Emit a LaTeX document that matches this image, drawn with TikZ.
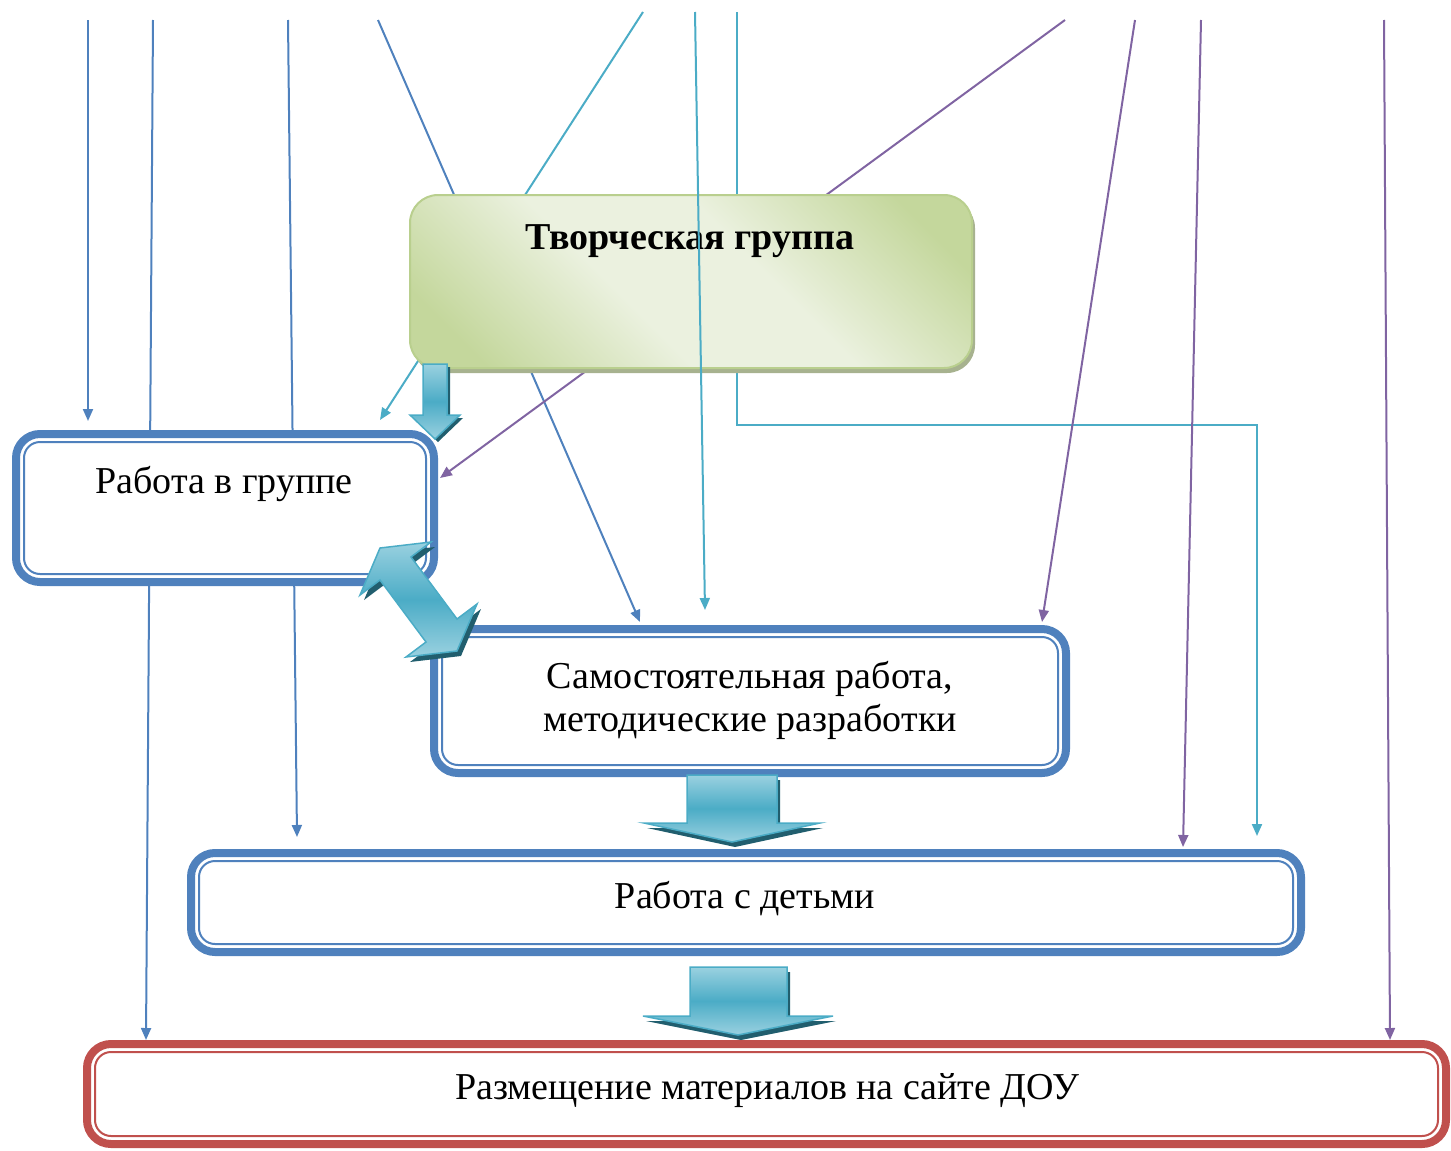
\documentclass[tikz,border=0pt]{standalone}
\usepackage{fontspec}
\setmainfont{Liberation Serif}
\usetikzlibrary{arrows.meta,calc,shadows}
\definecolor{cblue}{HTML}{4F81BD}
\definecolor{ccyan}{HTML}{4BACC6}
\definecolor{cpurp}{HTML}{8064A2}
\definecolor{cred}{HTML}{C0504D}
\definecolor{glight}{HTML}{EBF1DF}
\definecolor{gdark}{HTML}{C4D79C}
\definecolor{gedge}{HTML}{B9CF8E}
\definecolor{gshadow}{HTML}{A7B28F}
\definecolor{alight}{HTML}{9AD1E0}
\definecolor{adark}{HTML}{215E6E}
\pgfdeclareverticalshading{greenband}{100bp}{color(0bp)=(gdark); color(22bp)=(gdark); color(42bp)=(glight); color(58bp)=(glight); color(78bp)=(gdark); color(100bp)=(gdark)}
\begin{document}
\begin{tikzpicture}[x=1pt,y=-1pt,
  conn/.style={line width=2pt,-{Triangle[length=12pt,width=10pt]}},
  dbox/.style={draw=#1,line width=8pt,fill=white,rounded corners=24pt,inner sep=0pt,outer sep=0pt,anchor=north west},
  innerline/.style={draw=#1,line width=2pt,rounded corners=16pt},
  gbox/.style={draw=gedge,line width=2pt,rounded corners=28pt,inner sep=0pt,outer sep=0pt,anchor=north west,
    shading=greenband,shading angle=-45,
    general shadow={fill=gshadow,shadow xshift=3pt,shadow yshift=-5pt}},
  lbl/.style={font=\fontsize{38pt}{43pt}\selectfont,align=center,inner sep=0pt},
  barrow/.style={draw=ccyan,line width=1.5pt,top color=alight,bottom color=alight,middle color=ccyan},
  bshadow/.style={fill=adark}
]
\useasboundingbox (0,0) rectangle (1451,1151);

% start coordinates
\coordinate (s1) at (88,20);
\coordinate (s2) at (153,20);
\coordinate (s3) at (288,20);
\coordinate (s4) at (378,20);
\coordinate (s5) at (643,12);
\coordinate (s6) at (695,12);
\coordinate (s7) at (737,12);
\coordinate (s8) at (1065,20);
\coordinate (s9) at (1135,20);
\coordinate (s10) at (1201,20);
\coordinate (s11) at (1384,20);
% end coordinates
\coordinate (e1) at (88,421);
\coordinate (e2) at (146,1040);
\coordinate (e3) at (297,837);
\coordinate (e4) at (640,622);
\coordinate (e5) at (380,420);
\coordinate (e6) at (705,610);
\coordinate (e7) at (1257,836);
\coordinate (e8) at (440,478);
\coordinate (e9) at (1042,622);
\coordinate (e10) at (1183,847);
\coordinate (e11) at (1390,1040);

% connectors behind boxes
\draw[conn,cblue] (s1) -- (e1);
\draw[conn,cblue] (s2) -- (e2);
\draw[conn,cblue] (s3) -- (e3);
\draw[conn,cblue] (s4) -- (e4);
\draw[conn,ccyan] (s5) -- (e5);
\draw[conn,ccyan] (s7) |- (1257,425) -- (e7);
\draw[conn,cpurp] (s8) -- (e8);
\draw[conn,cpurp] (s9) -- (e9);
\draw[conn,cpurp] (s10) -- (e10);
\draw[conn,cpurp] (s11) -- (e11);

% creative group
\node[gbox,minimum width=562pt,minimum height=173pt] (tg) at (410,195) {};
\node[lbl,font=\fontsize{38pt}{43pt}\selectfont\bfseries] (tgT) at (690,241) {Творческая группа};

\draw[conn,ccyan] (s6) -- (e6);

% boxes
\node[dbox=cblue,minimum width=418pt,minimum height=148pt] (grp) at (16,434) {};
\draw[innerline=cblue] ([shift={(8,8)}]grp.north west) rectangle ([shift={(-8,-8)}]grp.south east);
\node[lbl] (grpT) at (224,484) {Работа в группе};

\node[dbox=cblue,minimum width=632pt,minimum height=144pt] (sam) at (434,629) {};
\draw[innerline=cblue] ([shift={(8,8)}]sam.north west) rectangle ([shift={(-8,-8)}]sam.south east);
\node[lbl] (samT) at (750,700) {Самостоятельная работа,\\методические разработки};

\node[dbox=cblue,minimum width=1110pt,minimum height=99pt] (kid) at (191,853) {};
\draw[innerline=cblue] ([shift={(8,8)}]kid.north west) rectangle ([shift={(-8,-8)}]kid.south east);
\node[lbl] (kidT) at (745,899) {Работа с детьми};

\node[dbox=cred,minimum width=1359pt,minimum height=100pt] (web) at (87,1044) {};
\draw[innerline=cred] ([shift={(8,8)}]web.north west) rectangle ([shift={(-8,-8)}]web.south east);
\node[lbl] (webT) at (767,1091) {Размещение материалов на сайте ДОУ};

% block arrows
% small: creative group -> group work
\fill[bshadow] (426,367) -- (450,367) -- (450,418) -- (463,418) -- (438,442) -- (413,418) -- (426,418) -- cycle;
\draw[barrow] (423,364) -- (447,364) -- (447,415) -- (460,415) -- (435,439) -- (410,415) -- (423,415) -- cycle;

% double arrow
\fill[bshadow,shift={(4,5)}] (380,548) -- (431,542) -- (411,557) -- (457,619) -- (477,604) -- (457,651) -- (406,657) -- (426,642) -- (380,580) -- (360,595) -- cycle;
\draw[barrow] (380,548) -- (431,542) -- (411,557) -- (457,619) -- (477,604) -- (457,651) -- (406,657) -- (426,642) -- (380,580) -- (360,595) -- cycle;

% sam -> kid
\fill[bshadow,shift={(3,5)}] (687,775) -- (777,775) -- (777,823) -- (820,823) -- (732,842) -- (644,823) -- (687,823) -- cycle;
\draw[barrow] (687,775) -- (777,775) -- (777,823) -- (820,823) -- (732,842) -- (644,823) -- (687,823) -- cycle;

% kid -> web
\fill[bshadow,shift={(3,5)}] (690,967) -- (787,967) -- (787,1016) -- (833,1016) -- (738,1035) -- (643,1016) -- (690,1016) -- cycle;
\draw[barrow] (690,967) -- (787,967) -- (787,1016) -- (833,1016) -- (738,1035) -- (643,1016) -- (690,1016) -- cycle;
\end{tikzpicture}
\end{document}
